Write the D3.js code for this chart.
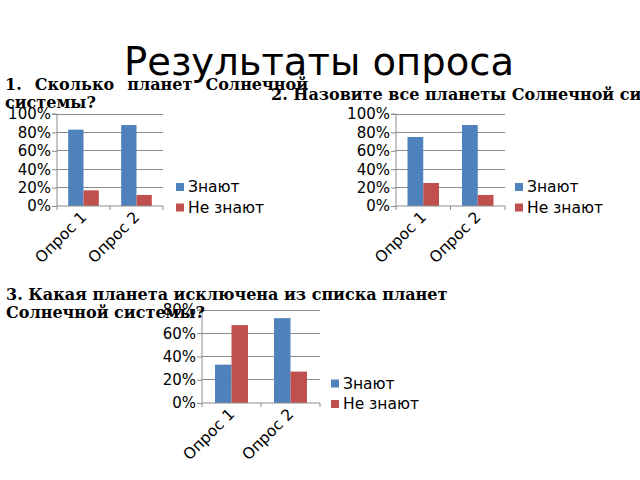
<!DOCTYPE html>
<html><head><meta charset="utf-8">
<script src="https://cdn.jsdelivr.net/npm/d3@7"></script>
<style>html,body{margin:0;padding:0;background:#fff;overflow:hidden}</style>
</head><body>
<svg id="c" width="640" height="480"></svg>
<script>
const mainTitle = "Результаты опроса";
const categories = ["Опрос 1", "Опрос 2"];
const seriesNames = ["Знают", "Не знают"];
const seriesColors = ["#4F81BD", "#C0504D"];

const q1Title = ["1. Сколько планет Солнечной", "системы?"];
const q1Know = [0.83, 0.88];
const q1NotKnow = [0.17, 0.12];

const q2Title = ["2. Назовите все планеты Солнечной системы?"];
const q2Know = [0.75, 0.88];
const q2NotKnow = [0.25, 0.12];

const q3Title = ["3. Какая планета исключена из списка планет", "Солнечной системы?"];
const q3Know = [0.33, 0.73];
const q3NotKnow = [0.67, 0.27];

const yTicksFull = [0, 0.2, 0.4, 0.6, 0.8, 1.0];
const yTicksShort = [0, 0.2, 0.4, 0.6, 0.8];

const svg = d3.select("#c");
const FONT = "'DejaVu Sans', Verdana, sans-serif";
const SERIF = "'DejaVu Serif', 'Liberation Serif', serif";

svg.append("text").attr("x", 319).attr("y", 75).attr("text-anchor", "middle")
  .attr("font-family", FONT).attr("font-size", 38.5).attr("fill", "#000").text(mainTitle);

function drawChart(o) {
  const g = svg.append("g");
  const x = d3.scaleBand().domain(categories).range([o.x0, o.x1]).padding(0);
  const xs = d3.scaleBand().domain(seriesNames).range([0, x.bandwidth()]).paddingInner(0).paddingOuter(o.pad);
  const y = d3.scaleLinear().domain([0, o.yMax]).range([o.yB, o.yT]);
  const grid = "#8c8c8c";
  g.selectAll("line.grid").data(o.ticks.filter(t => t > 0)).join("line")
    .attr("x1", o.x0).attr("x2", o.x1).attr("y1", d => y(d)).attr("y2", d => y(d))
    .attr("stroke", grid).attr("stroke-width", 1).attr("shape-rendering", "crispEdges");
  const ya = d3.axisLeft(y).tickValues(o.ticks).tickFormat(d3.format(".0%")).tickSize(5).tickPadding(1);
  const yg = g.append("g").attr("transform", `translate(${o.x0},0)`).call(ya);
  yg.select(".domain").attr("stroke", grid).attr("d", `M-5,${o.yT}H0V${o.yB}`);
  yg.selectAll(".tick line").attr("stroke", grid);
  yg.selectAll("text").attr("font-family", FONT).attr("font-size", 15).attr("fill", "#000");
  const rows = categories.map((c, i) => ({ c, vals: [o.know[i], o.notKnow[i]] }));
  const cg = g.selectAll("g.cat").data(rows).join("g").attr("transform", d => `translate(${x(d.c)},0)`);
  cg.selectAll("rect").data(d => d.vals.map((v, j) => ({ v, s: seriesNames[j], j }))).join("rect")
    .attr("x", d => xs(d.s)).attr("width", xs.bandwidth())
    .attr("y", d => y(d.v)).attr("height", d => y(0) - y(d.v))
    .attr("fill", d => seriesColors[d.j]);
  const xa = d3.axisBottom(x).tickSize(0).tickFormat(() => "");
  const xg = g.append("g").attr("transform", `translate(0,${o.yB})`).call(xa);
  xg.select(".domain").attr("stroke", grid).attr("d", `M${o.x0},0H${o.x1}`);
  const bounds = [o.x0, o.x0 + x.step(), o.x1];
  xg.selectAll("line.b").data(bounds).join("line").attr("x1", d => d).attr("x2", d => d)
    .attr("y1", 0).attr("y2", 4).attr("stroke", grid);
  g.selectAll("text.cat").data(categories).join("text")
    .attr("transform", d => `translate(${x(d) + x.bandwidth() / 2 + 4},${o.yB + 12}) rotate(-45)`)
    .attr("text-anchor", "end").attr("font-family", FONT).attr("font-size", 15.5).attr("fill", "#000")
    .text(d => d);
  const lg = g.selectAll("g.leg").data(seriesNames).join("g")
    .attr("transform", (d, i) => `translate(${o.lx},${o.ly + i * 20.5})`);
  lg.append("rect").attr("x", 0).attr("y", -4).attr("width", 8).attr("height", 8)
    .attr("fill", (d, i) => seriesColors[i]);
  lg.append("text").attr("x", 12).attr("y", 0).attr("dy", "0.35em").attr("font-family", FONT)
    .attr("font-size", 15.5).attr("fill", "#000").text(d => d);
  o.title.forEach((t, i) => {
    const tt = svg.append("text").attr("x", o.tx).attr("y", o.ty + i * 18.3)
      .attr("font-family", SERIF).attr("font-weight", "bold").attr("font-size", 16)
      .attr("fill", "#000").text(t);
    if (o.justify && o.justify[i]) {
      const nat = tt.node().getComputedTextLength();
      const spaces = (t.match(/ /g) || []).length;
      if (spaces > 0) tt.attr("word-spacing", Math.max(0, (o.justify[i] - nat) / spaces));
    }
  });
}

drawChart({ x0: 57, x1: 163, yT: 114, yB: 206, yMax: 1, ticks: yTicksFull, pad: 0.73,
  know: q1Know, notKnow: q1NotKnow, lx: 176, ly: 187, title: q1Title, tx: 5, ty: 90, justify: [303] });
drawChart({ x0: 396, x1: 505, yT: 114, yB: 206, yMax: 1, ticks: yTicksFull, pad: 0.73,
  know: q2Know, notKnow: q2NotKnow, lx: 515, ly: 187, title: q2Title, tx: 271, ty: 100 });
drawChart({ x0: 202, x1: 320, yT: 310, yB: 403, yMax: 0.8, ticks: yTicksShort, pad: 0.79,
  know: q3Know, notKnow: q3NotKnow, lx: 331, ly: 383.5, title: q3Title, tx: 6, ty: 300 });
</script>
</body></html>
